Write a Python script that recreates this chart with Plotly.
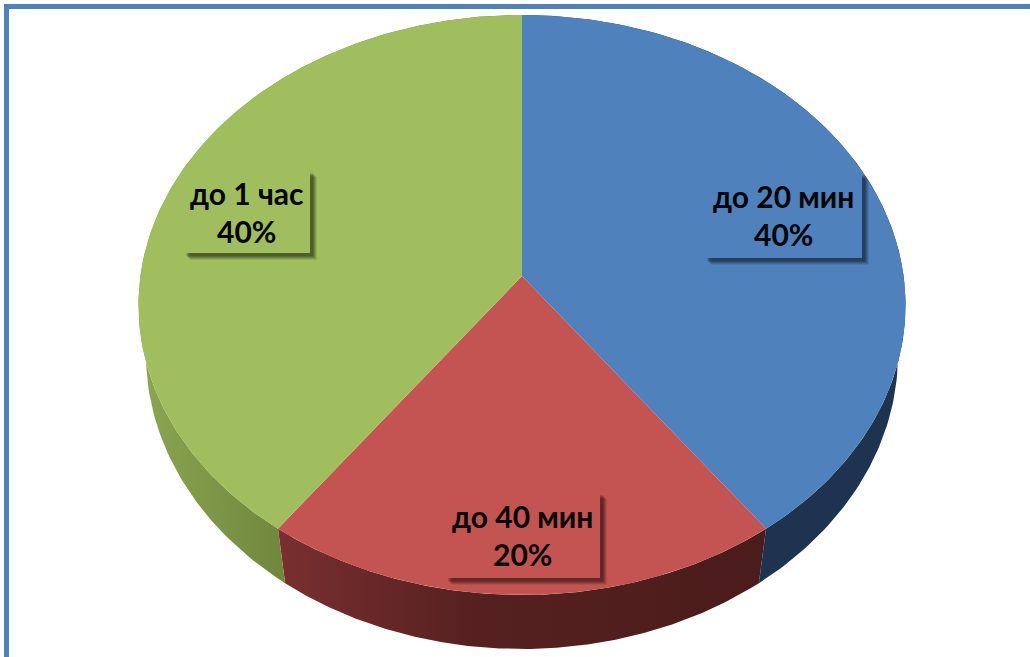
import numpy as np
import plotly.graph_objects as go

categories = ["до 20 мин", "до 40 мин", "до 1 час"]
shares = [40, 20, 40]

top_colors = ["#4F81BD", "#C35451", "#A0BE5E"]
wall_scales = [
    [[0, "#1E3350"], [1, "#1E3350"]],
    [[0, "#7A2F30"], [0.4, "#562020"], [1, "#4A1C1B"]],
    [[0, "#8CA650"], [0.4, "#6E853C"], [1, "#5F7434"]],
]
label_boxes = [(704, 172, 862, 258), (445, 492, 600, 578), (183, 170, 310, 253)]
FONT = "Lato, 'Noto Sans', sans-serif"
W, H = 1030, 657

CX = 522.0
TOP_PLANE = dict(cy=276.0, rx=381.6, ry=287.1, k=-0.1)
BOTTOM_PLANE = dict(cy=328.7, rx=374.6, ry=292.4, k=-0.087)


def project(deg, plane):
    t = np.radians(deg)
    u, v = np.sin(t), -np.cos(t)
    w = 1 + plane["k"] * v
    return CX + plane["rx"] * u / w, plane["cy"] + plane["ry"] * v / w


fig = go.Figure()
edges = np.concatenate([[0], np.cumsum(shares)]) / sum(shares) * 360

for i in range(len(shares)):
    arc = np.linspace(edges[i], edges[i + 1], 181)
    tx, ty = project(arc, TOP_PLANE)
    bx, by = project(arc[::-1], BOTTOM_PLANE)
    fig.add_trace(go.Scatter(
        x=np.concatenate([tx, bx]), y=np.concatenate([ty, by]),
        mode="lines", line=dict(width=0), fill="toself",
        fillgradient=dict(type="horizontal", colorscale=wall_scales[i]),
        hoverinfo="skip", showlegend=False))

for i in range(len(shares)):
    arc = np.linspace(edges[i], edges[i + 1], 181)
    tx, ty = project(arc, TOP_PLANE)
    cy = TOP_PLANE["cy"]
    fig.add_trace(go.Scatter(
        x=np.concatenate([[CX], tx, [CX]]), y=np.concatenate([[cy], ty, [cy]]),
        mode="lines", line=dict(width=0), fill="toself", fillcolor=top_colors[i],
        name=categories[i], text=f"{shares[i]}%", hoverinfo="name+text", showlegend=False))

shapes = [
    dict(type="line", x0=6.5, y0=H, x1=6.5, y1=6.5, line=dict(color="#4F81BD", width=5), layer="above"),
    dict(type="line", x0=4, y0=6.5, x1=W, y1=6.5, line=dict(color="#4F81BD", width=5), layer="above"),
]
annotations = []
for i, (x0, y0, x1, y1) in enumerate(label_boxes):
    for off, op in [(7, 0.08), (6, 0.12), (5, 0.14), (4, 0.16), (3, 0.14)]:
        shapes.append(dict(type="rect", x0=x0 + off, y0=y0 + off, x1=x1 + off, y1=y1 + off,
                           line=dict(width=0), fillcolor="black", opacity=op, layer="above"))
    shapes.append(dict(type="rect", x0=x0, y0=y0, x1=x1, y1=y1, line=dict(width=0),
                       fillcolor=top_colors[i], layer="above"))
    xc = (x0 + x1) / 2
    yc = (y0 + y1) / 2
    for txt, dy in [(categories[i], -19), (f"{shares[i]}%", 19)]:
        annotations.append(dict(x=xc, y=yc + dy, text=f"<b>{txt}</b>", showarrow=False,
                                font=dict(family=FONT, size=30, color="#050505"),
                                xanchor="center", yanchor="middle"))

fig.update_layout(
    width=W, height=H, autosize=False,
    margin=dict(l=0, r=0, t=0, b=0),
    paper_bgcolor="white", plot_bgcolor="white",
    xaxis=dict(range=[0, W], visible=False, fixedrange=True),
    yaxis=dict(range=[H, 0], visible=False, fixedrange=True),
    shapes=shapes, annotations=annotations,
)
fig.write_html("out.html", config=dict(displayModeBar=False),
               post_script="document.body.style.margin='0';document.body.style.overflow='hidden';")
